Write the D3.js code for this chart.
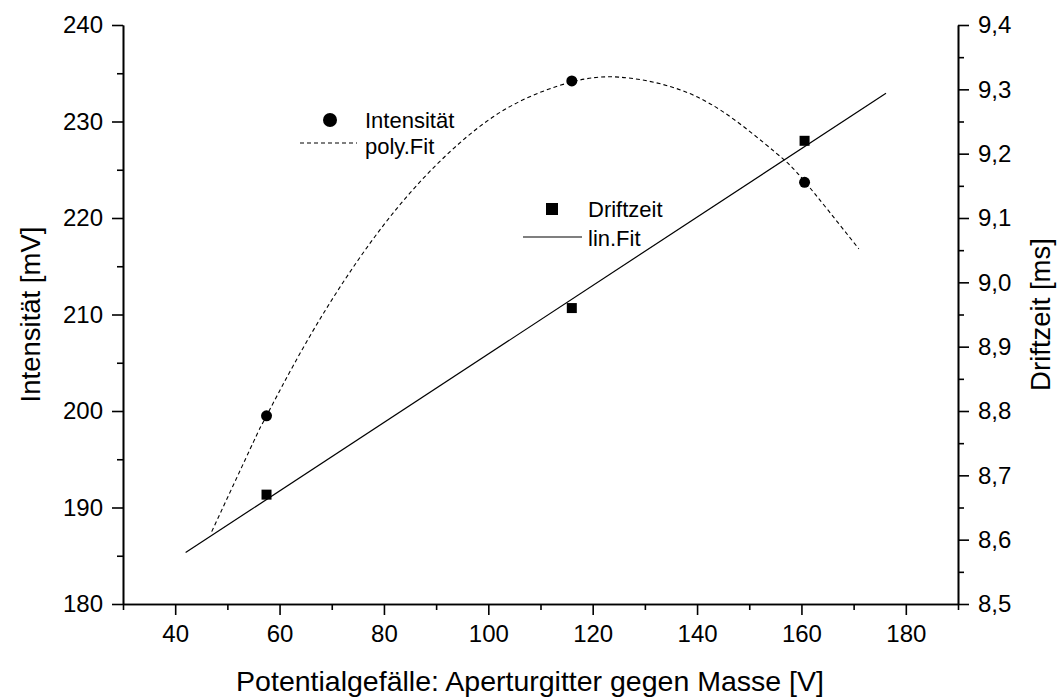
<!DOCTYPE html>
<html>
<head>
<meta charset="utf-8">
<script src="https://cdn.jsdelivr.net/npm/d3@7"></script>
<style>
  html, body { margin: 0; padding: 0; background: #fff; }
  svg { display: block; font-family: "Liberation Sans", Arial, sans-serif; }
</style>
</head>
<body>
<svg id="chart" width="1063" height="700"></svg>
<script>
// ---- data ----
const voltage = [57.5, 116, 160.6];
const intensity = [199.5, 234.2, 223.7];
const driftTime = [8.67, 8.96, 9.22];

// poly fit curve
const polyFitX = [47, 55, 57.5, 65, 75, 85, 95, 105, 116, 125, 135, 145, 155, 160.6, 171];
const polyFitY = [187.5, 196.8, 199.5, 207.0, 215.6, 222.6, 228.0, 231.8, 234.1, 234.6, 233.6, 231.0, 226.8, 223.8, 216.8];

// linear fit endpoints
const linFitX = [42, 176.2];
const linFitY = [8.58, 9.294];

const xTicks = [40, 60, 80, 100, 120, 140, 160, 180];
const yLeftTicks = [180, 190, 200, 210, 220, 230, 240];
const yRightTicks = [8.5, 8.6, 8.7, 8.8, 8.9, 9.0, 9.1, 9.2, 9.3, 9.4];

const xTitle = "Potentialgefälle: Aperturgitter gegen Masse [V]";
const yLeftTitle = "Intensität [mV]";
const yRightTitle = "Driftzeit [ms]";

// ---- layout ----
const L = 123, R = 958, T = 25, B = 604;
const svg = d3.select("#chart");

const x = d3.scaleLinear().domain([30, 190]).range([L, R]);
const yL = d3.scaleLinear().domain([180, 240]).range([B, T]);
const yR = d3.scaleLinear().domain([8.5, 9.4]).range([B, T]);

const fmtComma = d => d3.format(".1f")(d).replace(".", ",");
const axisStroke = 1.6;
const majorLen = 11, minorLen = 6;
const tickFont = 24;

function styleAxis(g) {
  g.selectAll("path.domain").attr("stroke", "#000").attr("stroke-width", axisStroke);
  g.selectAll(".tick line").attr("stroke", "#000").attr("stroke-width", axisStroke);
  g.selectAll(".tick text").attr("fill", "#000").attr("font-size", tickFont)
    .attr("font-family", "Liberation Sans, Arial, sans-serif");
}

// minor ticks
const xMinor = d3.range(30, 191, 10).filter(v => !xTicks.includes(v));
const yLMinor = d3.range(185, 240, 10);
const yRMinor = d3.range(8.55, 9.4, 0.1);

svg.append("g").attr("transform", `translate(0,${B})`)
  .call(d3.axisBottom(x).tickValues(xMinor).tickSize(minorLen).tickSizeOuter(0).tickFormat(""))
  .call(styleAxis);
svg.append("g").attr("transform", `translate(0,${B})`)
  .call(d3.axisBottom(x).tickValues(xTicks).tickSize(majorLen).tickSizeOuter(0).tickPadding(10))
  .call(styleAxis);

svg.append("g").attr("transform", `translate(${L},0)`)
  .call(d3.axisLeft(yL).tickValues(yLMinor).tickSize(minorLen).tickSizeOuter(0).tickFormat(""))
  .call(styleAxis);
svg.append("g").attr("transform", `translate(${L},0)`)
  .call(d3.axisLeft(yL).tickValues(yLeftTicks).tickSize(majorLen).tickSizeOuter(0).tickPadding(9))
  .call(styleAxis);

svg.append("g").attr("transform", `translate(${R},0)`)
  .call(d3.axisRight(yR).tickValues(yRMinor).tickSize(minorLen).tickSizeOuter(0).tickFormat(""))
  .call(styleAxis);
svg.append("g").attr("transform", `translate(${R},0)`)
  .call(d3.axisRight(yR).tickValues(yRightTicks).tickSize(majorLen).tickSizeOuter(0).tickPadding(9).tickFormat(fmtComma))
  .call(styleAxis);

// axis titles
svg.append("text").attr("x", 530).attr("y", 691)
  .attr("text-anchor", "middle").attr("font-size", 28.5).text(xTitle);
svg.append("text").attr("transform", `translate(40,${(T + B) / 2}) rotate(-90)`)
  .attr("text-anchor", "middle").attr("font-size", 27.5).text(yLeftTitle);
svg.append("text").attr("transform", `translate(1050,${(T + B) / 2}) rotate(-90)`)
  .attr("text-anchor", "middle").attr("font-size", 27.5).text(yRightTitle);

// fits
const polyData = polyFitX.map((v, i) => [v, polyFitY[i]]);
svg.append("path").datum(polyData)
  .attr("fill", "none").attr("stroke", "#000").attr("stroke-width", 1.1)
  .attr("stroke-dasharray", "4,3")
  .attr("d", d3.line().x(d => x(d[0])).y(d => yL(d[1])).curve(d3.curveNatural));

const linData = linFitX.map((v, i) => [v, linFitY[i]]);
svg.append("path").datum(linData)
  .attr("fill", "none").attr("stroke", "#000").attr("stroke-width", 1.2)
  .attr("d", d3.line().x(d => x(d[0])).y(d => yR(d[1])));

// markers
svg.selectAll("circle.pt").data(voltage).join("circle").attr("class", "pt")
  .attr("cx", d => x(d)).attr("cy", (d, i) => yL(intensity[i])).attr("r", 5.5).attr("fill", "#000");
const sq = 10;
svg.selectAll("rect.pt").data(voltage).join("rect").attr("class", "pt")
  .attr("x", d => x(d) - sq / 2).attr("y", (d, i) => yR(driftTime[i]) - sq / 2)
  .attr("width", sq).attr("height", sq).attr("fill", "#000");

// legends
const legFont = 22;
const leg1 = svg.append("g");
leg1.append("circle").attr("cx", 330).attr("cy", 120).attr("r", 7).attr("fill", "#000");
leg1.append("text").attr("x", 365).attr("y", 128).attr("font-size", legFont).text("Intensität");
leg1.append("line").attr("x1", 300).attr("x2", 357).attr("y1", 143).attr("y2", 143)
  .attr("stroke", "#000").attr("stroke-width", 1.1).attr("stroke-dasharray", "4,3");
leg1.append("text").attr("x", 365).attr("y", 153.5).attr("font-size", legFont).text("poly.Fit");

const leg2 = svg.append("g");
leg2.append("rect").attr("x", 546).attr("y", 203).attr("width", 12).attr("height", 12).attr("fill", "#000");
leg2.append("text").attr("x", 588).attr("y", 217).attr("font-size", legFont).text("Driftzeit");
leg2.append("line").attr("x1", 523).attr("x2", 582).attr("y1", 237).attr("y2", 237)
  .attr("stroke", "#000").attr("stroke-width", 1.2);
leg2.append("text").attr("x", 588).attr("y", 245.5).attr("font-size", legFont).text("lin.Fit");
</script>
</body>
</html>
